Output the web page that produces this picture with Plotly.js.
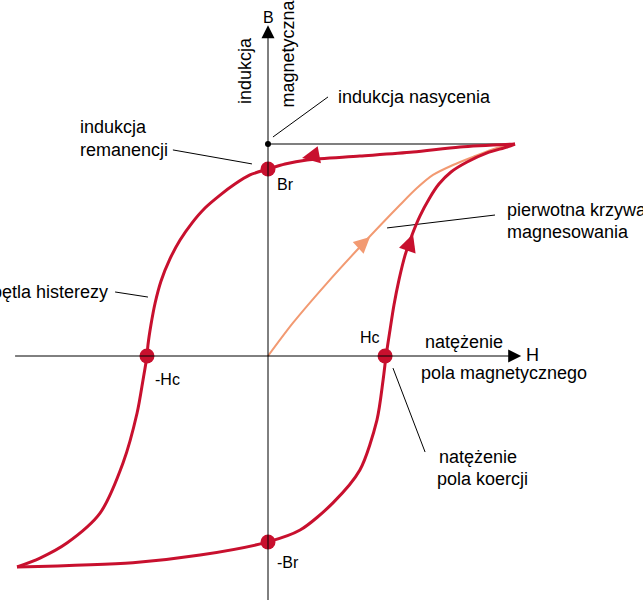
<!DOCTYPE html>
<html>
<head>
<meta charset="utf-8">
<script src="https://cdn.plot.ly/plotly-3.0.1.min.js"></script>
<style>html,body{margin:0;padding:0;background:#fff;}#chart{width:643px;height:600px;}</style>
</head>
<body>
<div id="chart"></div>
<script>
// Hysteresis loop data (H = field strength, B = induction), normalised to saturation = 1
const descH = [1.0, 0.777, 0.587, 0.372, 0.158, 0.069, 0.0, -0.073, -0.134, -0.194, -0.255, -0.308, -0.356, -0.397, -0.433, -0.457, -0.474, -0.486, -0.490, -0.506, -0.530, -0.587, -0.680, -0.814, -0.923, -1.016];
const descB = [1.0, 0.986, 0.962, 0.943, 0.925, 0.906, 0.882, 0.854, 0.811, 0.759, 0.698, 0.627, 0.547, 0.458, 0.354, 0.250, 0.146, 0.052, 0.0, -0.113, -0.269, -0.505, -0.741, -0.882, -0.953, -0.995];
const ascH = [-1.016, -0.547, -0.275, 0.0, 0.130, 0.263, 0.372, 0.441, 0.466, 0.478, 0.494, 0.510, 0.530, 0.555, 0.583, 0.615, 0.652, 0.692, 0.741, 0.806, 0.887, 0.968, 1.0];
const ascB = [-0.995, -0.975, -0.939, -0.877, -0.821, -0.693, -0.538, -0.302, -0.113, 0.0, 0.123, 0.241, 0.358, 0.476, 0.571, 0.660, 0.741, 0.811, 0.868, 0.915, 0.958, 0.986, 1.0];
const initH = [0.0, 0.101, 0.239, 0.372, 0.534, 0.603, 0.668, 0.749, 0.830, 0.927, 1.0];
const initB = [0.0, 0.156, 0.344, 0.514, 0.712, 0.792, 0.854, 0.901, 0.939, 0.981, 1.0];
const keyH = [0.0, 0.0, 0.474, -0.490];       // Br, -Br, Hc, -Hc
const keyB = [0.882, -0.877, 0.0, 0.0];
const satH = [0.0, 1.0];
const satB = [1.0, 1.0];

const RED = '#c8102e', SALMON = '#f29a72';
const FONT = 'Liberation Sans, Arial, Helvetica, sans-serif';

// leader lines: [x0,y0,x1,y1]
const leaders = [
  [0.020, 1.033, 0.243, 1.222],
  [-0.385, 0.972, -0.065, 0.906],
  [-0.619, 0.302, -0.486, 0.278],
  [0.482, 0.604, 0.919, 0.665],
  [0.506, -0.057, 0.636, -0.453]
];
const lx = [], ly = [];
leaders.forEach(l => { lx.push(l[0], l[2], null); ly.push(l[1], l[3], null); });

const traces = [
  {x: satH, y: satB, mode: 'lines', line: {color: '#000', width: 1.2}, hoverinfo: 'skip'},
  {x: lx, y: ly, mode: 'lines', line: {color: '#000', width: 1}, hoverinfo: 'skip'},
  {x: initH, y: initB, mode: 'lines', line: {color: SALMON, width: 2, shape: 'spline', smoothing: 0.8}},
  {x: descH, y: descB, mode: 'lines', line: {color: RED, width: 3, shape: 'spline', smoothing: 0.8}},
  {x: ascH, y: ascB, mode: 'lines', line: {color: RED, width: 3, shape: 'spline', smoothing: 0.8}},
  {x: keyH, y: keyB, mode: 'markers', marker: {color: RED, size: 15}},
  {x: [satH[0]], y: [satB[0]], mode: 'markers', marker: {color: '#000', size: 6}}
];

function arrow(x, y, ax, ay, color, w, size) {
  return {x: x, y: y, ax: ax, ay: ay, xref: 'x', yref: 'y', axref: 'x', ayref: 'y',
          text: '', showarrow: true, arrowhead: 2, arrowcolor: color, arrowwidth: w, arrowsize: size, standoff: 0, startstandoff: 0};
}
function label(text, x, y, xanchor, size, angle) {
  return {x: x, y: y, xref: 'x', yref: 'y', text: text, showarrow: false, xanchor: xanchor || 'left', yanchor: 'middle',
          textangle: angle || 0, font: {family: FONT, size: size || 18, color: '#000'}};
}

const annotations = [
  // axes
  arrow(1.025, 0, -1.03, 0, '#000', 1, 2.6),
  arrow(0, 1.56, 0, -1.2, '#000', 1, 2.6),
  // direction arrows on curves
  arrow(0.138, 0.934, 0.202, 0.948, RED, 2.5, 1.4),
  arrow(0.587, 0.575, 0.562, 0.490, RED, 2.5, 1.4),
  arrow(0.413, 0.561, 0.364, 0.509, SALMON, 2, 1.6),
  // labels
  label('B', 0, 1.599, 'center', 16),
  label('indukcja', -0.093, 1.344, 'center', 18, -90),
  label('magnetyczna', 0.081, 1.427, 'center', 18, -90),
  label('indukcja nasycenia', 0.275, 1.222, 'left', 18),
  label('indukcja', -0.769, 1.080, 'left', 18),
  label('remanencji', -0.769, 0.972, 'left', 18),
  label('pętla histerezy', -0.640, 0.302, 'right', 18),
  label('pierwotna krzywa', 0.960, 0.689, 'left', 18),
  label('magnesowania', 0.960, 0.585, 'left', 18),
  label('Hc', 0.413, 0.085, 'center', 16),
  label('natężenie', 0.628, 0.066, 'left', 18),
  label('H', 1.069, 0.005, 'center', 18),
  label('pola magnetycznego', 0.611, -0.080, 'left', 18),
  label('-Hc', -0.466, -0.113, 'left', 16),
  label('Br', 0.028, 0.807, 'left', 16),
  label('-Br', 0.028, -0.976, 'left', 16),
  label('natężenie', 0.684, -0.476, 'left', 18),
  label('pola koercji', 0.676, -0.580, 'left', 18)
];

const layout = {
  width: 643, height: 600,
  margin: {l: 0, r: 0, t: 0, b: 0},
  paper_bgcolor: '#fff', plot_bgcolor: '#fff',
  showlegend: false,
  xaxis: {range: [-1.085, 1.5182], visible: false, fixedrange: true},
  yaxis: {range: [-1.1509, 1.6792], visible: false, fixedrange: true},
  annotations: annotations
};

Plotly.newPlot('chart', traces, layout, {staticPlot: true});
</script>
</body>
</html>
